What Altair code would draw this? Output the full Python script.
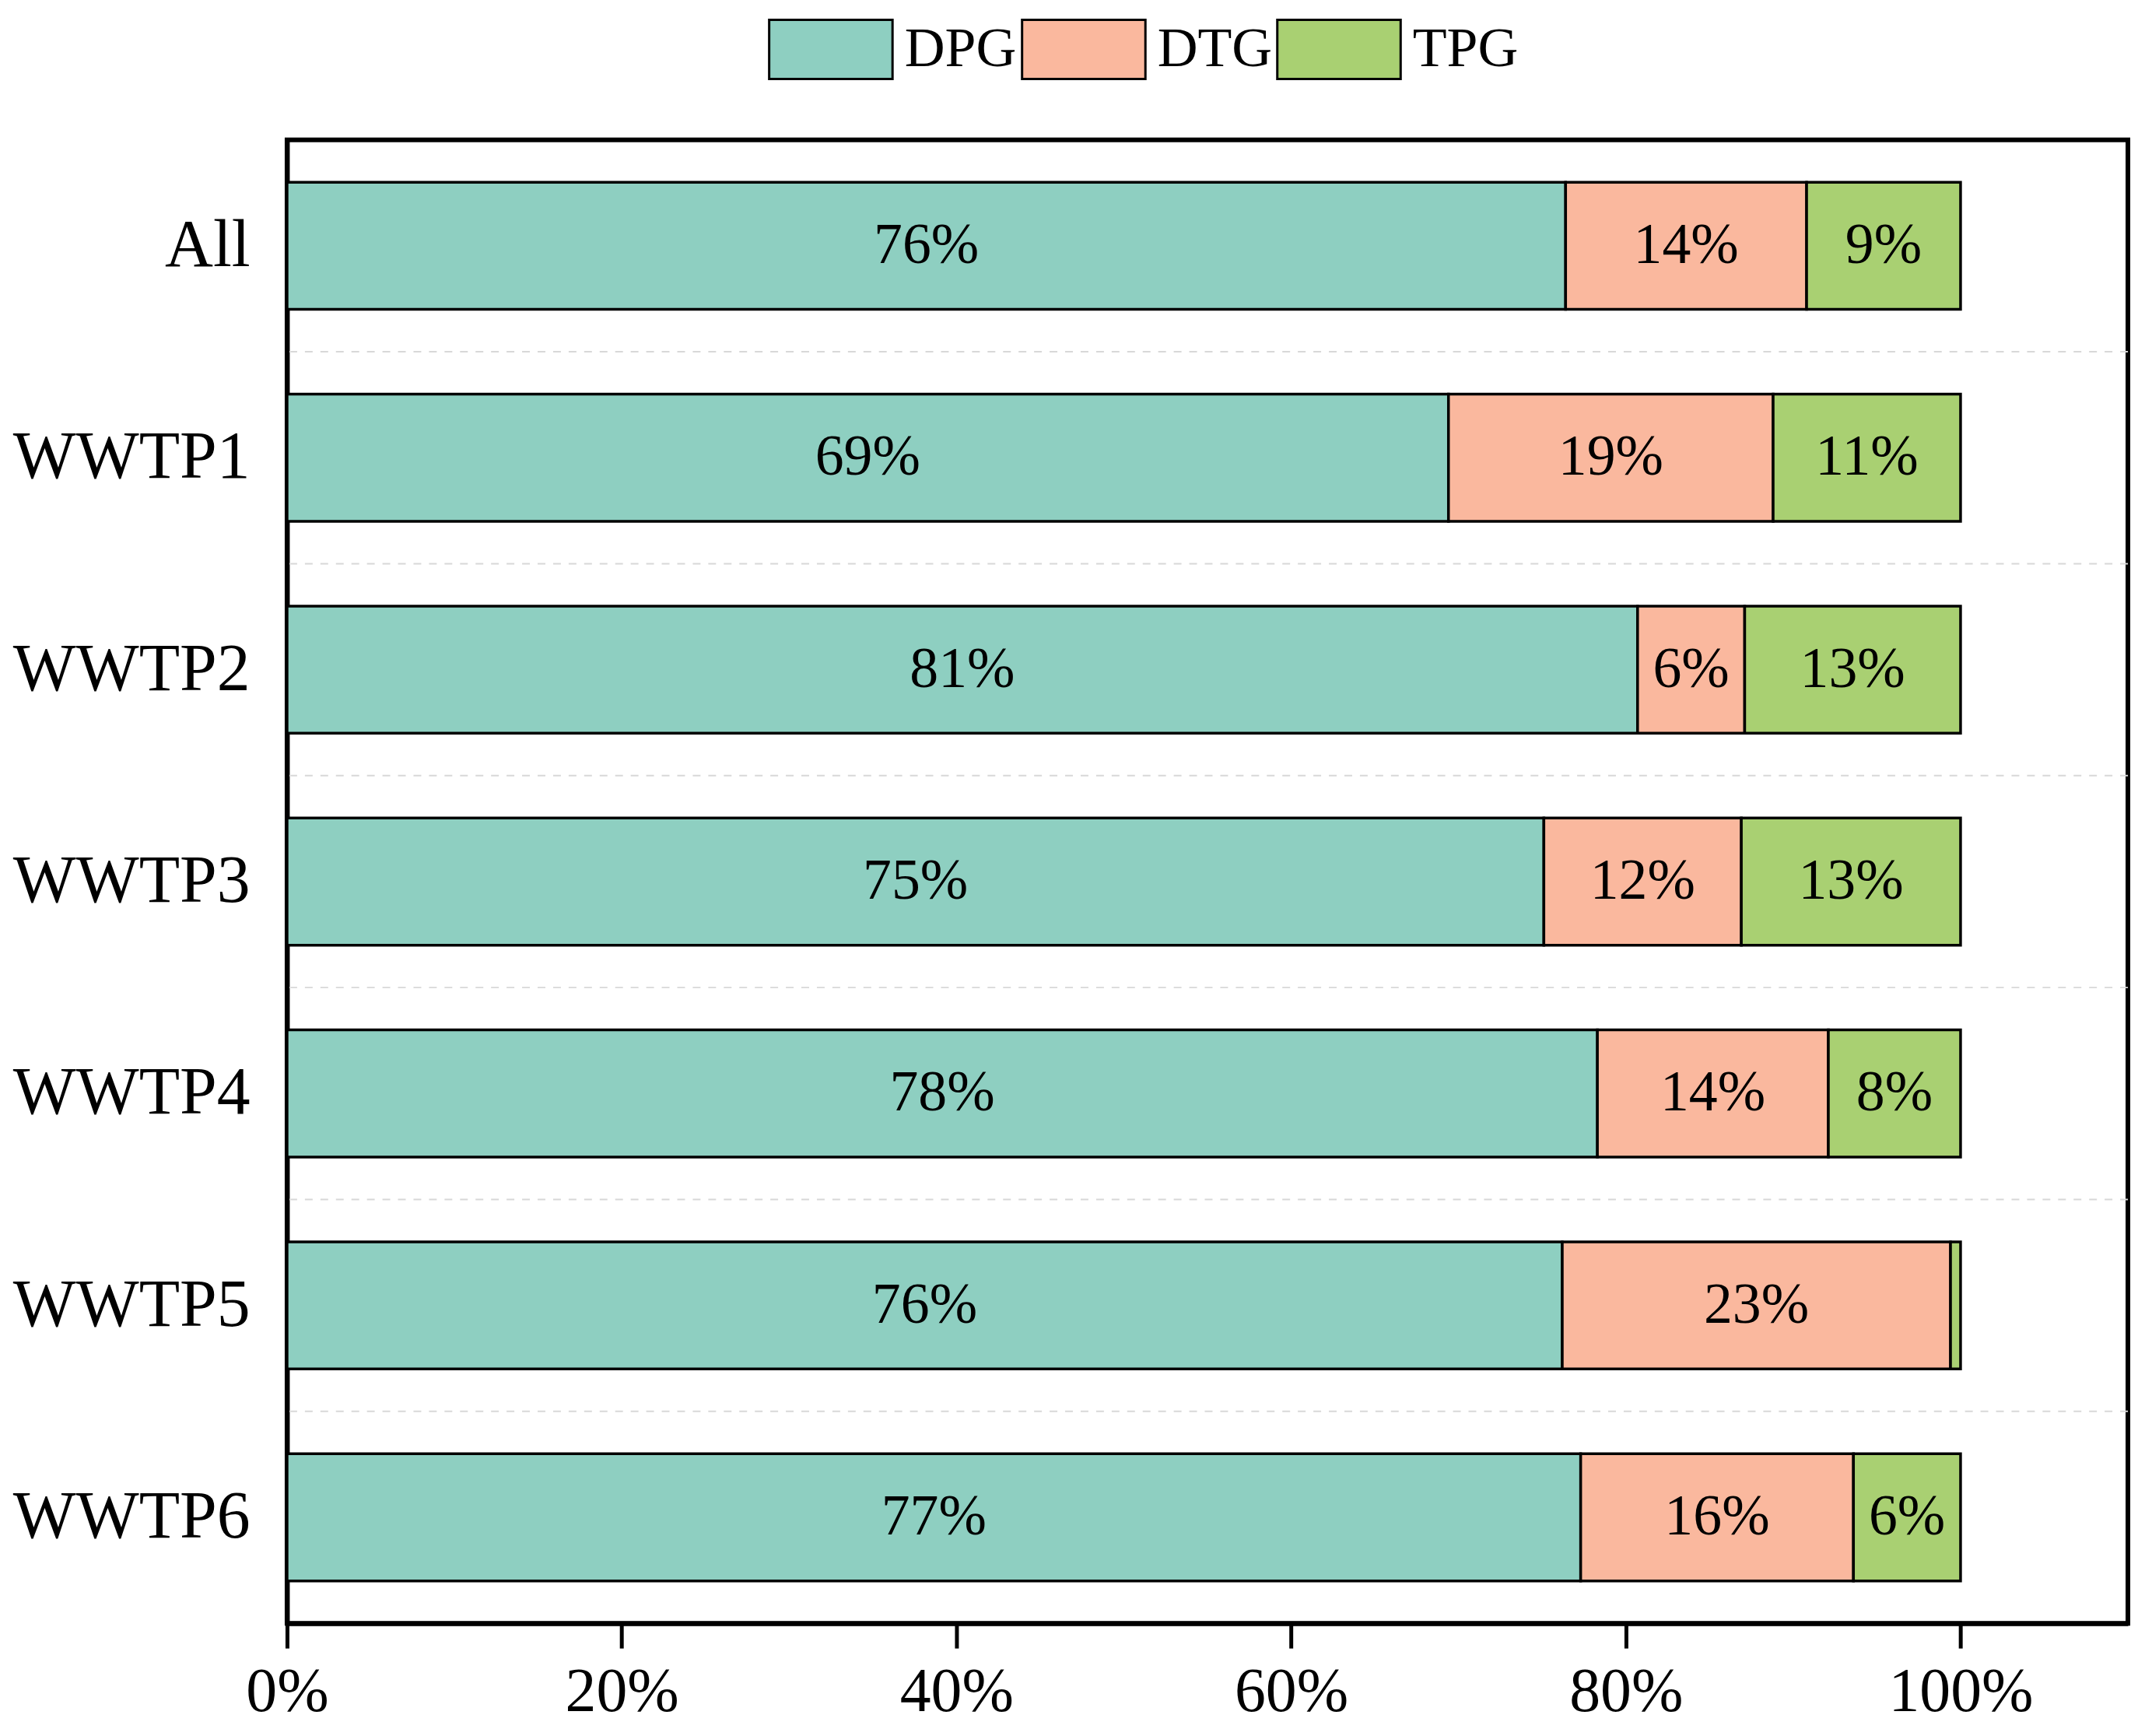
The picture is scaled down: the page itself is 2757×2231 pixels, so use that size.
import altair as alt
import pandas as pd

sites = ["All", "WWTP1", "WWTP2", "WWTP3", "WWTP4", "WWTP5", "WWTP6"]
groups = ["DPG", "DTG", "TPG"]
dpg = [76.4, 69.4, 80.7, 75.1, 78.3, 76.2, 77.3]
dtg = [14.4, 19.4, 6.4, 11.8, 13.8, 23.2, 16.3]
tpg = [9.2, 11.2, 12.9, 13.1, 7.9, 0.6, 6.4]
colors = ["#8ECFC1", "#FAB89E", "#A9D072"]
x_ticks = [0, 20, 40, 60, 80, 100]

rows = []
for i, s in enumerate(sites):
    for k, (g, vals) in enumerate(zip(groups, [dpg, dtg, tpg])):
        rows.append({"site": s, "group": g, "order": k, "value": vals[i]})
df = pd.DataFrame(rows)

FONT = "Liberation Serif"
W, H = 2373, 1912
STEP = H / len(sites)

base = alt.Chart(df).transform_stack(
    stack="value", groupby=["site"], as_=["x0", "x1"], sort=[alt.SortField("order")]
).transform_calculate(
    mid="(datum.x0 + datum.x1) / 2",
    label="format(datum.value, '.0f') + '%'",
)

y_scale = alt.Scale(domain=sites, paddingInner=0.4, paddingOuter=0.2)

y_enc = alt.Y(
    "site:N",
    sort=sites,
    scale=y_scale,
    axis=alt.Axis(
        title=None, ticks=False, labelFontSize=86, labelPadding=48,
        labelColor="black", labelFont=FONT, labelLimit=0,
        domainColor="black", domainWidth=6, grid=False,
    ),
)

x_enc = alt.X(
    "x0:Q",
    scale=alt.Scale(domain=[0, 110], nice=False, zero=True),
    axis=alt.Axis(
        values=x_ticks, labelExpr="datum.value + '%'", title=None, grid=False,
        labelFontSize=80, labelPadding=18, labelColor="black", labelFont=FONT,
        labelLimit=0, labelFlush=False, domainColor="black", domainWidth=6,
        tickColor="black", tickWidth=5, tickSize=32,
    ),
)

grid = base.transform_filter(
    "datum.order == 0 && datum.site != 'All'"
).mark_rule(
    color="#d8d8d8", strokeWidth=2, strokeDash=[10, 10], yOffset=-STEP / 2
).encode(y=alt.Y("site:N", sort=sites, scale=y_scale))

bars = base.mark_bar(stroke="black", strokeWidth=3.5).encode(
    y=y_enc,
    x=x_enc,
    x2="x1:Q",
    color=alt.Color(
        "group:N",
        scale=alt.Scale(domain=groups, range=colors),
        legend=alt.Legend(
            title=None, orient="none", legendX=620, legendY=-198,
            direction="horizontal", columns=3,
            symbolType="M-1,-0.48H1V0.48H-1Z", symbolSize=25281,
            symbolStrokeColor="black", symbolStrokeWidth=3, symbolOpacity=1,
            labelFontSize=72, labelFont=FONT, labelColor="black", labelLimit=0,
            labelOffset=14, columnPadding=0,
        ),
    ),
    order=alt.Order("order:Q"),
)

labels = base.transform_filter("datum.value >= 2").mark_text(
    fontSize=74, font=FONT, color="black", baseline="middle", align="center"
).encode(
    y=alt.Y("site:N", sort=sites, scale=y_scale),
    x="mid:Q",
    text="label:N",
)

chart = alt.layer(grid, bars, labels).properties(
    width=W, height=H,
    autosize=alt.AutoSizeParams(type="none"),
    padding={"left": 362, "top": 169, "right": 14, "bottom": 134},
    background="white",
).configure(
    font=FONT
).configure_view(
    stroke="black", strokeWidth=6
)

chart.save("out.html", embed_options={"renderer": "svg", "actions": False})
